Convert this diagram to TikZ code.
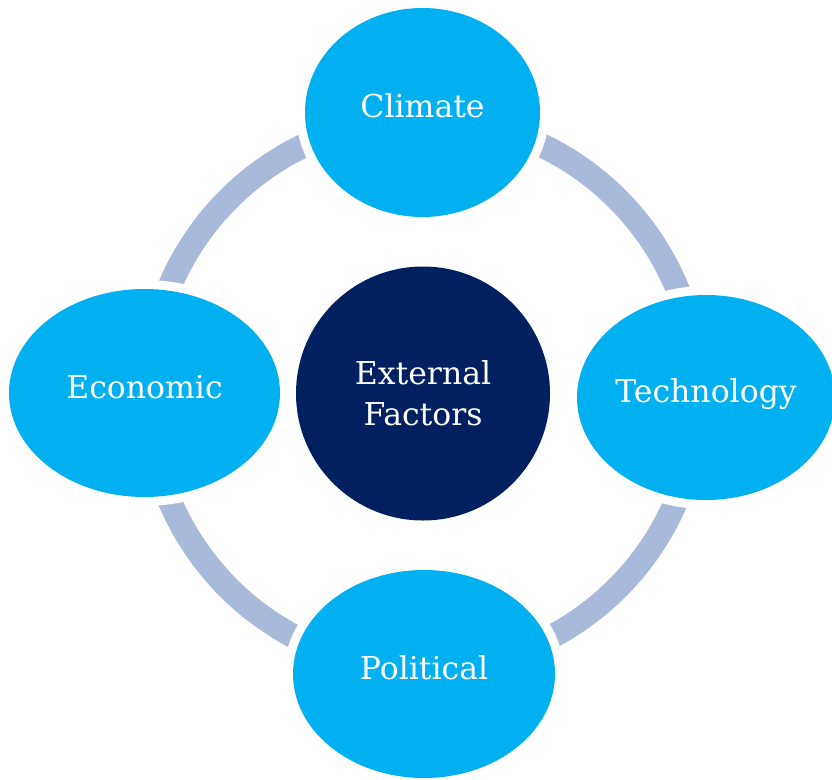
\documentclass[tikz,border=0pt]{standalone}
\usepackage{fontspec}
\setmainfont{DejaVu Serif}
\usetikzlibrary{shapes.geometric}
\definecolor{cyanfill}{HTML}{00B0F0}
\definecolor{ringcol}{HTML}{A9B9DB}
\definecolor{navyfill}{HTML}{002060}
\begin{document}
\begin{tikzpicture}[x=1pt,y=-1pt,
  factor/.style={ellipse, fill=cyanfill, inner sep=0pt,
    preaction={draw=white, line width=18pt},
    text=white, font=\fontsize{31.5}{37}\selectfont,
    text height=23pt, text depth=13pt},
  hub/.style={circle, fill=navyfill, minimum size=254pt, inner sep=0pt,
    text=white, align=center, font=\fontsize{31.5}{41}\selectfont},
  ringline/.style={draw=ringcol, line width=24pt}]
\useasboundingbox (0,0) rectangle (832,779);
\fill[white] (0,0) rectangle (832,779);
\coordinate (ringc) at (423,393.5);
\draw[ringline] (ringc) circle (275pt);
\node[hub] (ef) at (ringc) {External\\Factors};
\node[factor, minimum width=235pt, minimum height=209pt] (climate) at (422.5,112.5) {Climate};
\node[factor, minimum width=271pt, minimum height=208pt] (econ) at (144.5,393) {Economic};
\node[factor, minimum width=258pt, minimum height=205pt] (tech) at (706,397.5) {Technology};
\node[factor, minimum width=262pt, minimum height=208pt] (pol) at (424,674) {Political};
\end{tikzpicture}
\end{document}
